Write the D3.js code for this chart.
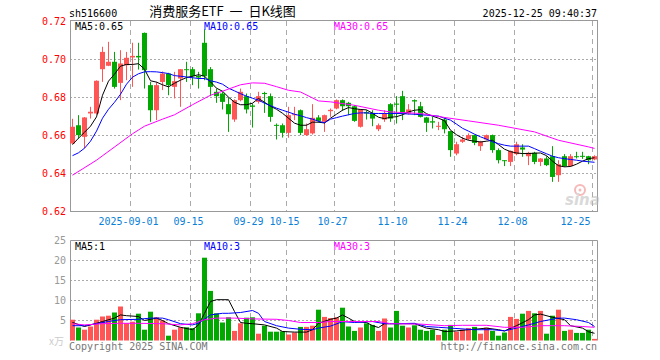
<!DOCTYPE html>
<html>
<head>
<meta charset="utf-8">
<script src="https://cdn.jsdelivr.net/npm/d3@7"></script>
<style>
  body { margin: 0; background: #fff; }
  text { font-family: "DejaVu Sans Mono", monospace; font-size: 10px; }
</style>
</head>
<body>
<div id="chart"></div>
<script>
// Trading days shown (2025)
const dates = [
  "08-18","08-19","08-20","08-21","08-22","08-25","08-26","08-27","08-28","08-29",
  "09-01","09-02","09-03","09-04","09-05","09-08","09-09","09-10","09-11","09-12",
  "09-15","09-16","09-17","09-18","09-19","09-22","09-23","09-24","09-25","09-26",
  "09-29","09-30","10-09","10-10","10-13","10-14","10-15","10-16","10-17","10-20",
  "10-21","10-22","10-23","10-24","10-27","10-28","10-29","10-30","10-31","11-03",
  "11-04","11-05","11-06","11-07","11-10","11-11","11-12","11-13","11-14","11-17",
  "11-18","11-19","11-20","11-21","11-24","11-25","11-26","11-27","11-28","12-01",
  "12-02","12-03","12-04","12-05","12-08","12-09","12-10","12-11","12-12","12-15",
  "12-16","12-17","12-18","12-19","12-22","12-23","12-24","12-25"];

const tickDates  = ["09-01","09-15","09-29","10-15","10-27","11-10","11-24","12-08","12-25"];
const tickLabels = ["2025-09-01","09-15","09-29","10-15","10-27","11-10","11-24","12-08","12-25"];
const priceTicks = [0.62, 0.64, 0.66, 0.68, 0.70, 0.72];
const volTicks = [5, 10, 15, 20, 25];

// OHLC
const open = [
  0.6558,0.6654,0.6593,0.6716,0.6716,0.6949,0.6967,0.6988,0.6877,0.6970,
  0.7011,0.7019,0.7140,0.6865,0.6733,0.6882,0.6926,0.6856,0.6900,0.6949,
  0.6949,0.6914,0.7088,0.6949,0.6830,0.6821,0.6765,0.6684,0.6786,0.6807,
  0.6758,0.6777,0.6824,0.6807,0.6656,0.6654,0.6614,0.6707,0.6733,0.6602,
  0.6611,0.6695,0.6672,0.6728,0.6742,0.6786,0.6772,0.6754,0.6646,0.6723,
  0.6719,0.6633,0.6684,0.6765,0.6768,0.6807,0.6716,0.6786,0.6754,0.6695,
  0.6675,0.6646,0.6684,0.6623,0.6505,0.6567,0.6581,0.6602,0.6544,0.6579,
  0.6602,0.6523,0.6470,0.6461,0.6502,0.6537,0.6491,0.6509,0.6461,0.6479,
  0.6491,0.6391,0.6491,0.6439,0.6491,0.6493,0.6491,0.6474];
const high = [
  0.6688,0.6707,0.6697,0.6751,0.6890,0.7067,0.7093,0.7040,0.7049,0.7040,
  0.7088,0.7088,0.7142,0.6882,0.6882,0.6937,0.6930,0.6935,0.6950,0.6988,
  0.6960,0.6935,0.7158,0.6960,0.6847,0.6830,0.6800,0.6790,0.6847,0.6821,
  0.6768,0.6830,0.6830,0.6821,0.6663,0.6663,0.6751,0.6751,0.6737,0.6663,
  0.6765,0.6707,0.6710,0.6742,0.6790,0.6790,0.6777,0.6760,0.6740,0.6733,
  0.6733,0.6663,0.6733,0.6770,0.6807,0.6835,0.6765,0.6790,0.6777,0.6698,
  0.6698,0.6672,0.6695,0.6625,0.6567,0.6593,0.6611,0.6605,0.6572,0.6605,
  0.6605,0.6532,0.6470,0.6521,0.6567,0.6554,0.6514,0.6514,0.6481,0.6491,
  0.6544,0.6470,0.6502,0.6502,0.6514,0.6514,0.6493,0.6496];
const low = [
  0.6555,0.6584,0.6532,0.6689,0.6710,0.6882,0.6965,0.6847,0.6786,0.6891,
  0.6856,0.6947,0.6847,0.6672,0.6681,0.6839,0.6812,0.6795,0.6751,0.6882,
  0.6865,0.6847,0.6891,0.6807,0.6772,0.6737,0.6619,0.6672,0.6780,0.6716,
  0.6642,0.6768,0.6719,0.6672,0.6579,0.6589,0.6588,0.6681,0.6602,0.6598,
  0.6605,0.6668,0.6619,0.6698,0.6738,0.6730,0.6707,0.6672,0.6642,0.6684,
  0.6649,0.6623,0.6672,0.6672,0.6663,0.6681,0.6710,0.6707,0.6695,0.6619,
  0.6637,0.6628,0.6611,0.6488,0.6496,0.6561,0.6575,0.6549,0.6519,0.6575,
  0.6509,0.6453,0.6439,0.6439,0.6496,0.6488,0.6444,0.6449,0.6439,0.6439,
  0.6356,0.6356,0.6435,0.6435,0.6479,0.6477,0.6449,0.6470];
const close = [
  0.6646,0.6602,0.6695,0.6725,0.6888,0.7040,0.6988,0.6856,0.6979,0.7009,
  0.7019,0.7011,0.6944,0.6733,0.6865,0.6926,0.6865,0.6886,0.6949,0.6944,
  0.6912,0.6905,0.6912,0.6856,0.6807,0.6777,0.6712,0.6786,0.6830,0.6737,
  0.6751,0.6807,0.6818,0.6698,0.6651,0.6614,0.6707,0.6712,0.6614,0.6633,
  0.6693,0.6677,0.6707,0.6735,0.6786,0.6754,0.6754,0.6677,0.6737,0.6716,
  0.6689,0.6654,0.6716,0.6689,0.6762,0.6716,0.6737,0.6779,0.6698,0.6667,
  0.6668,0.6651,0.6633,0.6523,0.6554,0.6579,0.6602,0.6561,0.6567,0.6602,
  0.6523,0.6470,0.6465,0.6519,0.6554,0.6526,0.6509,0.6461,0.6479,0.6444,
  0.6382,0.6449,0.6439,0.6491,0.6486,0.6488,0.6470,0.6491];

// Volume (x万)
const volume = [
  5.2,3.25,2.7,3.5,5.2,6.0,6.2,7.0,8.5,4.3,
  4.7,6.7,2.7,7.2,5.8,5.0,1.2,2.7,3.3,3.3,
  3.1,6.8,20.7,12.4,6.8,4.5,5.8,2.4,4.3,5.7,
  5.8,1.7,3.7,2.2,2.2,2.3,1.5,2.0,3.4,3.4,
  3.7,7.7,5.9,5.6,5.8,8.2,3.5,2.4,3.25,4.3,
  3.9,2.4,5.5,3.25,7.4,3.7,3.25,3.8,2.7,2.4,
  2.7,1.4,2.7,3.9,2.2,2.7,3.1,3.4,1.7,3.2,
  2.4,1.2,2.0,5.9,5.4,6.7,7.4,6.8,7.4,1.7,
  6.2,7.7,2.4,2.7,1.9,1.9,2.7,0.4];

// Price moving averages
const ma5 = [
  0.6552,0.6586,0.6617,0.6649,0.6698,0.6812,0.6886,0.6923,0.6965,0.6974,
  0.6974,0.6978,0.6949,0.6888,0.6881,0.6867,0.6856,0.6875,0.6891,0.6905,
  0.6912,0.6920,0.6912,0.6882,0.6849,0.6833,0.6802,0.6775,0.6762,0.6762,
  0.6770,0.6795,0.6775,0.6754,0.6738,0.6717,0.6691,0.6665,0.6654,0.6654,
  0.6670,0.6670,0.6666,0.6691,0.6712,0.6733,0.6747,0.6741,0.6737,0.6735,
  0.6717,0.6696,0.6689,0.6696,0.6699,0.6709,0.6724,0.6733,0.6736,0.6715,
  0.6702,0.6691,0.6678,0.6628,0.6604,0.6586,0.6575,0.6570,0.6566,0.6570,
  0.6575,0.6552,0.6528,0.6515,0.6508,0.6505,0.6505,0.6507,0.6508,0.6494,
  0.6465,0.6441,0.6435,0.6437,0.6449,0.6465,0.6478,0.6483];
const ma10 = [
  0.6494,0.6509,0.6533,0.6570,0.6623,0.6691,0.6738,0.6775,0.6817,0.6870,
  0.6907,0.6925,0.6935,0.6936,0.6935,0.6931,0.6926,0.6915,0.6912,0.6908,
  0.6904,0.6900,0.6900,0.6888,0.6881,0.6870,0.6849,0.6835,0.6820,0.6807,
  0.6796,0.6786,0.6770,0.6757,0.6744,0.6733,0.6723,0.6712,0.6704,0.6694,
  0.6686,0.6675,0.6667,0.6686,0.6694,0.6702,0.6709,0.6716,0.6719,0.6719,
  0.6716,0.6716,0.6716,0.6716,0.6716,0.6715,0.6713,0.6712,0.6709,0.6707,
  0.6704,0.6702,0.6691,0.6681,0.6660,0.6638,0.6623,0.6607,0.6593,0.6581,
  0.6567,0.6557,0.6549,0.6544,0.6544,0.6544,0.6544,0.6531,0.6517,0.6504,
  0.6491,0.6483,0.6478,0.6474,0.6470,0.6465,0.6462,0.6459];
// [day index, value]
const ma30 = [
  [0,0.6391],[4,0.6470],[10,0.6609],[12,0.6649],[15,0.6686],[17,0.6709],[20,0.6762],
  [23,0.6812],[25,0.6833],[28,0.6867],[30,0.6877],[32,0.6875],[34,0.6857],[36,0.6838],
  [38,0.6829],[41,0.6782],[43,0.6777],[47,0.6759],[51,0.6733],[53,0.6724],[58,0.6716],
  [62,0.6695],[66,0.6677],[71,0.6654],[77,0.6619],[81,0.6575],[86,0.6540],[87,0.6532]];

// Volume moving averages [day index, value]
const volMa5 = [
  [0,4.5],[2,3.5],[4,4.3],[5,4.75],[7,5.6],[8,6.4],[9,6.2],[11,6.0],[12,5.0],[14,5.6],
  [15,5.0],[16,4.2],[18,3.3],[20,2.7],[21,3.9],[22,6.8],[23,9.75],[24,10.2],[26,10.2],
  [27,7.25],[28,4.5],[29,4.3],[30,4.2],[32,3.9],[34,3.1],[35,2.25],[37,2.1],[39,2.1],
  [40,2.7],[41,4.3],[43,5.3],[44,5.6],[45,6.4],[46,5.6],[47,4.75],[49,4.5],[50,3.7],
  [51,3.25],[52,4.2],[54,4.2],[56,4.2],[57,4.2],[59,3.1],[61,2.7],[62,2.25],[64,2.4],
  [66,2.7],[67,2.8],[69,3.1],[71,2.7],[72,2.4],[74,3.7],[76,5.2],[77,6.4],[78,6.6],
  [80,5.8],[82,5.2],[83,3.7],[85,3.1],[86,2.2],[87,1.8]];
const volMa10 = [
  [0,3.7],[2,3.7],[4,4.2],[6,4.75],[8,5.2],[11,5.3],[13,5.6],[15,5.6],[16,5.2],[18,4.2],
  [20,3.9],[21,4.3],[23,6.4],[25,6.8],[26,6.8],[28,7.0],[30,7.5],[31,6.8],[32,4.75],
  [34,3.7],[36,3.1],[38,2.8],[40,2.7],[41,3.1],[43,3.6],[45,4.7],[47,4.5],[50,4.75],
  [52,4.2],[54,4.2],[57,4.3],[59,3.5],[61,3.3],[63,3.1],[66,2.8],[67,2.7],[70,2.7],
  [72,2.4],[74,3.1],[76,3.9],[78,4.75],[81,5.6],[82,5.6],[84,5.2],[86,4.5],[87,3.5]];
const volMa30 = [
  [0,4.2],[2,3.9],[5,4.2],[8,4.3],[11,4.3],[15,4.2],[18,3.9],[20,4.2],[22,5.2],[24,5.6],
  [27,5.6],[30,5.4],[34,5.3],[36,5.0],[38,4.5],[41,4.5],[43,4.75],[46,4.75],[51,4.75],
  [53,4.2],[58,4.1],[62,3.7],[65,3.8],[69,3.8],[72,3.3],[75,3.3],[78,3.7],[82,3.7],
  [85,3.5],[87,3.3]];

const UP = "#ff5555", DOWN = "#00a800";
const GRID = "#aaa", BORDER = "#999";

// Create SVG container
const svg = d3.select("#chart")
    .append("svg")
    .attr("width", 660)
    .attr("height", 360);

// Scales
const x = d3.scaleBand()
    .domain(dates)
    .range([70, 597])
    .paddingInner(1 / 6)
    .paddingOuter(0);
const cx = d => x(d) + x.bandwidth() / 2;

const yP = d3.scaleLinear().domain([0.62, 0.72]).range([211.5, 21.5]);
const yV = d3.scaleLinear().domain([0, 25]).range([340.5, 240.5]);

// Grid - price panel
svg.append("g").selectAll("line")
    .data(priceTicks.filter(v => v > 0.62 && v < 0.72))
    .join("line")
    .attr("x1", 70).attr("x2", 597)
    .attr("y1", d => yP(d)).attr("y2", d => yP(d))
    .attr("stroke", GRID).attr("stroke-dasharray", "2,2");

svg.append("g").selectAll("line")
    .data(tickDates)
    .join("line")
    .attr("x1", d => x(d) + 0.5).attr("x2", d => x(d) + 0.5)
    .attr("y1", 21).attr("y2", 211)
    .attr("stroke", GRID).attr("stroke-dasharray", "5,4");

svg.append("rect")
    .attr("x", 70.5).attr("y", 20.5)
    .attr("width", 527).attr("height", 191)
    .attr("fill", "none").attr("stroke", BORDER);

// Grid - volume panel
svg.append("g").selectAll("line")
    .data(volTicks.filter(v => v < 25))
    .join("line")
    .attr("x1", 70).attr("x2", 597)
    .attr("y1", d => yV(d)).attr("y2", d => yV(d))
    .attr("stroke", GRID).attr("stroke-dasharray", "2,2");

svg.append("g").selectAll("line")
    .data(tickDates)
    .join("line")
    .attr("x1", d => x(d) + 0.5).attr("x2", d => x(d) + 0.5)
    .attr("y1", 241).attr("y2", 340)
    .attr("stroke", GRID).attr("stroke-dasharray", "5,4");

svg.append("path")
    .attr("d", "M70.5,340.5V240.5H597.5V340.5")
    .attr("fill", "none").attr("stroke", BORDER);

// sina watermark
const logo = svg.append("g").attr("opacity", 0.55);
logo.append("circle").attr("cx", 580).attr("cy", 190).attr("r", 5)
    .attr("fill", "none").attr("stroke", "#f08080").attr("stroke-width", 2);
logo.append("circle").attr("cx", 580).attr("cy", 190).attr("r", 1.5).attr("fill", "#f08080");
logo.append("text").attr("x", 565).attr("y", 205)
    .style("font-family", "DejaVu Sans").style("font-size", "15px")
    .style("font-weight", "bold").style("font-style", "italic")
    .attr("fill", "#bbb").text("sina");

// Candles
const idx = d3.range(dates.length);
const col = i => close[i] >= open[i] ? UP : DOWN;

const candle = svg.append("g").selectAll("g").data(idx).join("g");
candle.append("line")
    .attr("x1", i => cx(dates[i])).attr("x2", i => cx(dates[i]))
    .attr("y1", i => yP(high[i])).attr("y2", i => yP(low[i]))
    .attr("stroke", col);
candle.append("rect")
    .attr("x", i => x(dates[i]))
    .attr("width", x.bandwidth())
    .attr("y", i => yP(Math.max(open[i], close[i])))
    .attr("height", i => Math.max(1, Math.abs(yP(open[i]) - yP(close[i]))))
    .attr("fill", col);

// Moving average lines
function drawLine(points, xf, yf, color) {
    svg.append("path")
        .datum(points)
        .attr("d", d3.line().x(xf).y(yf))
        .attr("fill", "none")
        .attr("stroke", color)
        .attr("stroke-width", 1);
}
drawLine(idx, i => cx(dates[i]), i => yP(ma5[i]), "#000");
drawLine(idx, i => cx(dates[i]), i => yP(ma10[i]), "#0000ff");
drawLine(ma30, d => cx(dates[d[0]]), d => yP(d[1]), "#ff00ff");

// Volume bars
svg.append("g").selectAll("rect")
    .data(idx)
    .join("rect")
    .attr("x", i => x(dates[i]))
    .attr("width", x.bandwidth())
    .attr("y", i => yV(volume[i]))
    .attr("height", i => yV(0) - yV(volume[i]))
    .attr("fill", col);

drawLine(volMa5, d => cx(dates[d[0]]), d => yV(d[1]), "#000");
drawLine(volMa10, d => cx(dates[d[0]]), d => yV(d[1]), "#0000ff");
drawLine(volMa30, d => cx(dates[d[0]]), d => yV(d[1]), "#ff00ff");

// Axes
function styleAxis(g, color) {
    g.select(".domain").remove();
    g.attr("font-family", null).attr("font-size", null);
    g.selectAll("text").attr("fill", color);
}

svg.append("g")
    .attr("transform", "translate(70,0)")
    .call(d3.axisLeft(yP).tickValues(priceTicks).tickSize(0).tickPadding(4)
        .tickFormat(d3.format(".2f")))
    .call(g => styleAxis(g, "#f00"));

svg.append("g")
    .attr("transform", "translate(70,0)")
    .call(d3.axisLeft(yV).tickValues(volTicks).tickSize(0).tickPadding(4))
    .call(g => styleAxis(g, "#999"));

const xAxis = svg.append("g")
    .attr("transform", "translate(-4,215)")
    .call(d3.axisBottom(x).tickValues(tickDates).tickSize(0).tickPadding(3)
        .tickFormat((d, i) => tickLabels[i]))
    .call(g => styleAxis(g, "#0a80d8"));
xAxis.selectAll(".tick:last-of-type text").attr("text-anchor", "end");

// Header texts
svg.append("text").attr("x", 69).attr("y", 16.5).attr("fill", "#000").text("sh516600");
svg.append("text").attr("x", 222.5).attr("y", 16).attr("text-anchor", "middle")
    .style("font-family", "'Noto Sans CJK SC'").style("font-size", "13px")
    .style("white-space", "pre")
    .attr("fill", "#000").text("消费服务ETF  一  日K线图");
svg.append("text").attr("x", 597).attr("y", 16.5).attr("text-anchor", "end")
    .attr("fill", "#000").text("2025-12-25 09:40:37");

// MA legends
const legendX = [75, 204, 334];
const legendColors = ["#000", "#0000ff", "#ff00ff"];
const priceLegend = ["MA5:0.65", "MA10:0.65", "MA30:0.65"];
const volLegend = ["MA5:1", "MA10:3", "MA30:3"];
priceLegend.forEach((t, i) => {
    svg.append("text").attr("x", legendX[i]).attr("y", 30)
        .attr("fill", legendColors[i]).text(t);
});
volLegend.forEach((t, i) => {
    svg.append("text").attr("x", legendX[i]).attr("y", 250)
        .attr("fill", legendColors[i]).text(t);
});

// Footer texts
svg.append("text").attr("x", 49).attr("y", 345)
    .style("font-family", "'Noto Sans CJK SC'").style("font-size", "10px")
    .attr("fill", "#ccc").text("x万");
svg.append("text").attr("x", 69).attr("y", 349.5).attr("fill", "#777")
    .text("Copyright 2025 SINA.COM");
svg.append("text").attr("x", 597).attr("y", 349.5).attr("text-anchor", "end")
    .attr("fill", "#777").text("http://finance.sina.com.cn");
</script>
</body>
</html>
